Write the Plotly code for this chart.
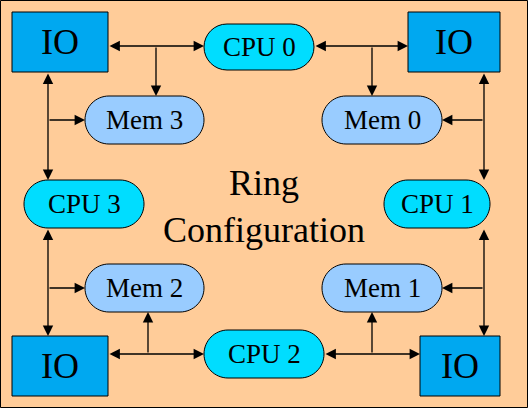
import plotly.graph_objects as go

W, H = 528, 408

# nodes: label, x0, y0, x1, y1 (pixel space, y down)
io_boxes = [
    ("IO", 12, 12, 108, 72),
    ("IO", 408, 12, 500, 72),
    ("IO", 12, 336, 108, 396),
    ("IO", 420, 336, 500, 396),
]
cpus = [
    ("CPU 0", 204, 24, 314, 70),
    ("CPU 1", 384, 180, 490, 228),
    ("CPU 2", 204, 330, 324, 378),
    ("CPU 3", 24, 180, 144, 228),
]
mems = [
    ("Mem 0", 322, 96, 442, 144),
    ("Mem 1", 322, 264, 442, 312),
    ("Mem 2", 85, 264, 204, 312),
    ("Mem 3", 85, 96, 204, 144),
]
# links: (x_from, y_from, x_to, y_to, both_ends)
links = [
    (108, 46, 204, 46, True), (156, 46, 156, 96, False),
    (48, 72, 48, 180, True), (48, 120, 85, 120, False),
    (314, 46, 408, 46, True), (372, 46, 372, 96, False),
    (484, 72, 484, 180, True), (484, 120, 442, 120, False),
    (48, 228, 48, 336, True), (48, 288, 85, 288, False),
    (108, 354, 204, 354, True), (148, 354, 148, 312, False),
    (484, 228, 484, 336, True), (484, 288, 442, 288, False),
    (324, 354, 420, 354, True), (372, 354, 372, 312, False),
]


def pill(x0, y0, x1, y1):
    r = (y1 - y0) / 2
    k = 0.5523 * r
    return (f"M {x0+r},{y0} L {x1-r},{y0} "
            f"C {x1-r+k},{y0} {x1},{y0+r-k} {x1},{y0+r} "
            f"C {x1},{y0+r+k} {x1-r+k},{y1} {x1-r},{y1} "
            f"L {x0+r},{y1} "
            f"C {x0+r-k},{y1} {x0},{y0+r+k} {x0},{y0+r} "
            f"C {x0},{y0+r-k} {x0+r-k},{y0} {x0+r},{y0} Z")


fig = go.Figure()
shapes, annos = [], []
font = "Liberation Serif"

for lab, x0, y0, x1, y1 in io_boxes:
    shapes.append(dict(type="rect", x0=x0, y0=y0, x1=x1, y1=y1,
                       fillcolor="#00A8F0", line=dict(color="black", width=1)))
    annos.append(dict(x=(x0+x1)/2, y=(y0+y1)/2, text=lab, showarrow=False,
                      font=dict(family=font, size=36, color="black")))
for group, col in ((cpus, "#00DDFF"), (mems, "#99CCFF")):
    for lab, x0, y0, x1, y1 in group:
        shapes.append(dict(type="path", path=pill(x0, y0, x1, y1),
                           fillcolor=col, line=dict(color="black", width=1)))
        annos.append(dict(x=(x0+x1)/2, y=(y0+y1)/2, text=lab, showarrow=False,
                          font=dict(family=font, size=27, color="black")))

for xa, ya, xb, yb, both in links:
    annos.append(dict(x=xb, y=yb, ax=xa, ay=ya, xref="x", yref="y",
                      axref="x", ayref="y", text="", showarrow=True,
                      arrowhead=2, startarrowhead=2, arrowsize=1.6,
                      startarrowsize=1.6, arrowwidth=1.3, arrowcolor="black",
                      arrowside="end+start" if both else "end"))

annos.append(dict(x=264, y=206, text="Ring<br>Configuration", showarrow=False,
                  font=dict(family=font, size=36, color="black")))

shapes.insert(0, dict(type="rect", x0=0.5, y0=0.5, x1=W-0.5, y1=H-0.5,
                      fillcolor="#FFCC99", line=dict(color="black", width=1),
                      layer="below"))

fig.update_layout(
    width=W, height=H, margin=dict(l=0, r=0, t=0, b=0),
    paper_bgcolor="#FFCC99", plot_bgcolor="#FFCC99",
    shapes=shapes, annotations=annos, showlegend=False,
    xaxis=dict(range=[0, W], visible=False, fixedrange=True),
    yaxis=dict(range=[H, 0], visible=False, fixedrange=True),
)
fig.write_html("out.html", config={"displayModeBar": False},
               post_script="document.body.style.margin='0';"
                           "document.body.style.overflow='hidden';")
